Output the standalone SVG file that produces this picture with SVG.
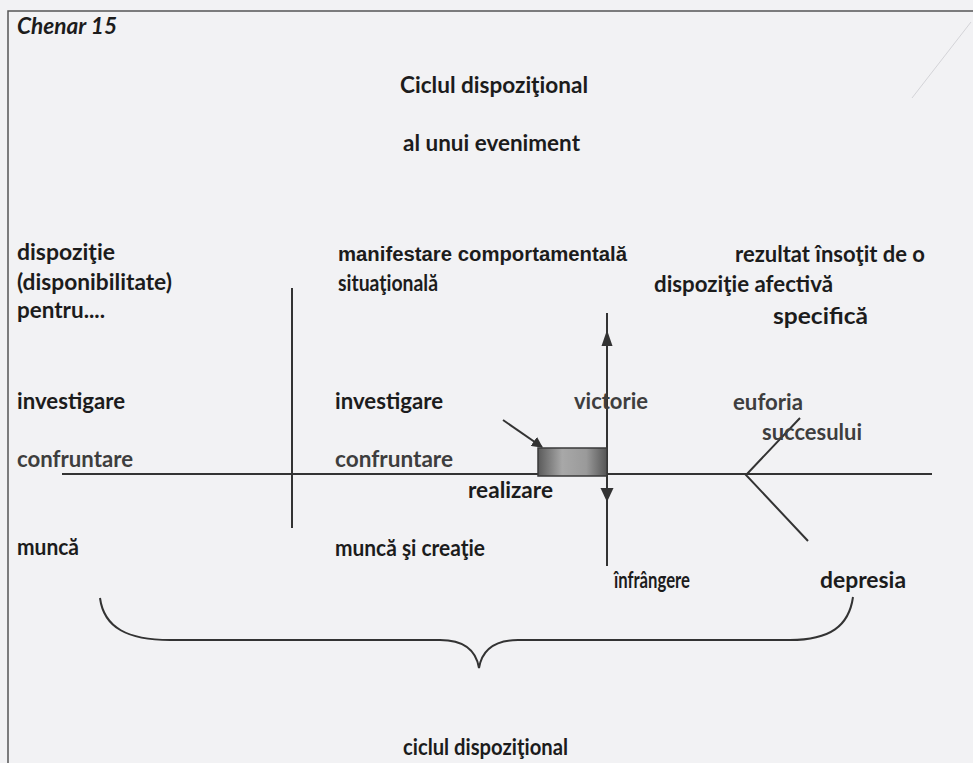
<svg xmlns="http://www.w3.org/2000/svg" width="973" height="763" viewBox="0 0 973 763">
<defs>
<style>
.t{font-family:Lato,"Open Sans","DejaVu Sans",sans-serif;font-weight:bold;font-size:22px;fill:#1c1c1c}
.g{fill:#3e3e3e}
.a{font-family:"Liberation Sans",Arial,sans-serif;font-weight:bold;font-size:20px;fill:#1c1c1c}
.ln{stroke:#333;stroke-width:2;fill:none}
.frame{stroke:#555;stroke-width:1.5;fill:none}
</style>
<linearGradient id="boxg" x1="0" y1="0" x2="1" y2="0">
<stop offset="0" stop-color="#5a5a5a"/>
<stop offset="0.35" stop-color="#a8a8a8"/>
<stop offset="0.7" stop-color="#9a9a9a"/>
<stop offset="1" stop-color="#555"/>
</linearGradient>
<marker id="ah" viewBox="0 0 10 10" refX="9" refY="5" markerWidth="11" markerHeight="11" markerUnits="userSpaceOnUse" orient="auto">
<path d="M0,0 L10,5 L0,10 z" fill="#333"/>
</marker>
</defs>
<rect x="0" y="0" width="973" height="763" fill="#f2f2f4"/>
<path class="frame" d="M8,763 L8,11 L973,11"/>
<line x1="971" y1="22" x2="912" y2="98" stroke="#d4d4d8" stroke-width="1"/>

<g id="connectors">
<line class="ln" x1="292" y1="288" x2="292" y2="528"/>
<line class="ln" x1="62" y1="474" x2="932" y2="474"/>
<line class="ln" x1="607" y1="313" x2="607" y2="566"/>
<path d="M607,330 L601.5,346 L612.5,346 z" fill="#333"/>
<path d="M607,502 L600.5,488 L613.5,488 z" fill="#333"/>
<line class="ln" x1="503" y1="420" x2="542" y2="447" marker-end="url(#ah)"/>
<polyline class="ln" points="800,418 746,475 808,541"/>
<path class="ln" d="M100,598 C104,628 128,640 170,640 L440,640 C464,640 476,650 479,668 C482,650 494,640 518,640 L790,640 C830,640 849,626 853,597"/>
</g>

<g id="realizare-box">
<rect x="538" y="448" width="69" height="28" fill="url(#boxg)" stroke="#3a3a3a" stroke-width="1.5"/>
</g>

<g id="title">
<text class="t" x="17" y="34" font-style="italic" textLength="100" lengthAdjust="spacingAndGlyphs">Chenar 15</text>
<text class="t" x="400" y="93" textLength="188" lengthAdjust="spacingAndGlyphs">Ciclul dispoziţional</text>
<text class="t" x="403" y="151" textLength="177" lengthAdjust="spacingAndGlyphs">al unui eveniment</text>
</g>

<g id="col1-header">
<text class="t" x="17" y="260" textLength="98" lengthAdjust="spacingAndGlyphs">dispoziţie</text>
<text class="t" x="17" y="290" textLength="155" lengthAdjust="spacingAndGlyphs">(disponibilitate)</text>
<text class="t" x="17" y="318" textLength="88" lengthAdjust="spacingAndGlyphs">pentru....</text>
</g>
<g id="col1-investigare"><text class="t" x="17" y="409" textLength="108" lengthAdjust="spacingAndGlyphs">investigare</text></g>
<g id="col1-confruntare"><text class="t g" x="17" y="467" textLength="116" lengthAdjust="spacingAndGlyphs">confruntare</text></g>
<g id="col1-munca"><text class="t" x="17" y="555" textLength="62" lengthAdjust="spacingAndGlyphs">muncă</text></g>

<g id="col2-header">
<text class="a" x="338" y="261" textLength="289" lengthAdjust="spacingAndGlyphs">manifestare comportamentală</text>
<text class="t" x="338" y="291" textLength="100" lengthAdjust="spacingAndGlyphs">situaţională</text>
</g>
<g id="col2-investigare"><text class="t" x="335" y="409" textLength="108" lengthAdjust="spacingAndGlyphs">investigare</text></g>
<g id="col2-confruntare"><text class="t g" x="335" y="467" textLength="118" lengthAdjust="spacingAndGlyphs">confruntare</text></g>
<g id="col2-munca"><text class="t" x="335" y="556" textLength="150" lengthAdjust="spacingAndGlyphs">muncă şi creaţie</text></g>
<g id="realizare"><text class="t" x="468" y="498" textLength="85" lengthAdjust="spacingAndGlyphs">realizare</text></g>
<g id="victorie"><text class="t g" x="574" y="409" textLength="74" lengthAdjust="spacingAndGlyphs">victorie</text></g>
<g id="infrangere"><text class="t" x="614" y="588" textLength="76" lengthAdjust="spacingAndGlyphs">înfrângere</text></g>

<g id="col3-header">
<text class="t" x="735" y="262" textLength="190" lengthAdjust="spacingAndGlyphs">rezultat însoţit de o</text>
<text class="t" x="654" y="292" textLength="179" lengthAdjust="spacingAndGlyphs">dispoziţie afectivă</text>
<text class="t" x="773" y="324" textLength="95" lengthAdjust="spacingAndGlyphs">specifică</text>
</g>
<g id="euforia">
<text class="t g" x="733" y="410" textLength="70" lengthAdjust="spacingAndGlyphs">euforia</text>
<text class="t g" x="762" y="440" textLength="100" lengthAdjust="spacingAndGlyphs">succesului</text>
</g>
<g id="depresia"><text class="t" x="820" y="588" textLength="86" lengthAdjust="spacingAndGlyphs">depresia</text></g>

<g id="ciclul"><text class="t" x="403" y="755" textLength="165" lengthAdjust="spacingAndGlyphs">ciclul dispoziţional</text></g>
</svg>
